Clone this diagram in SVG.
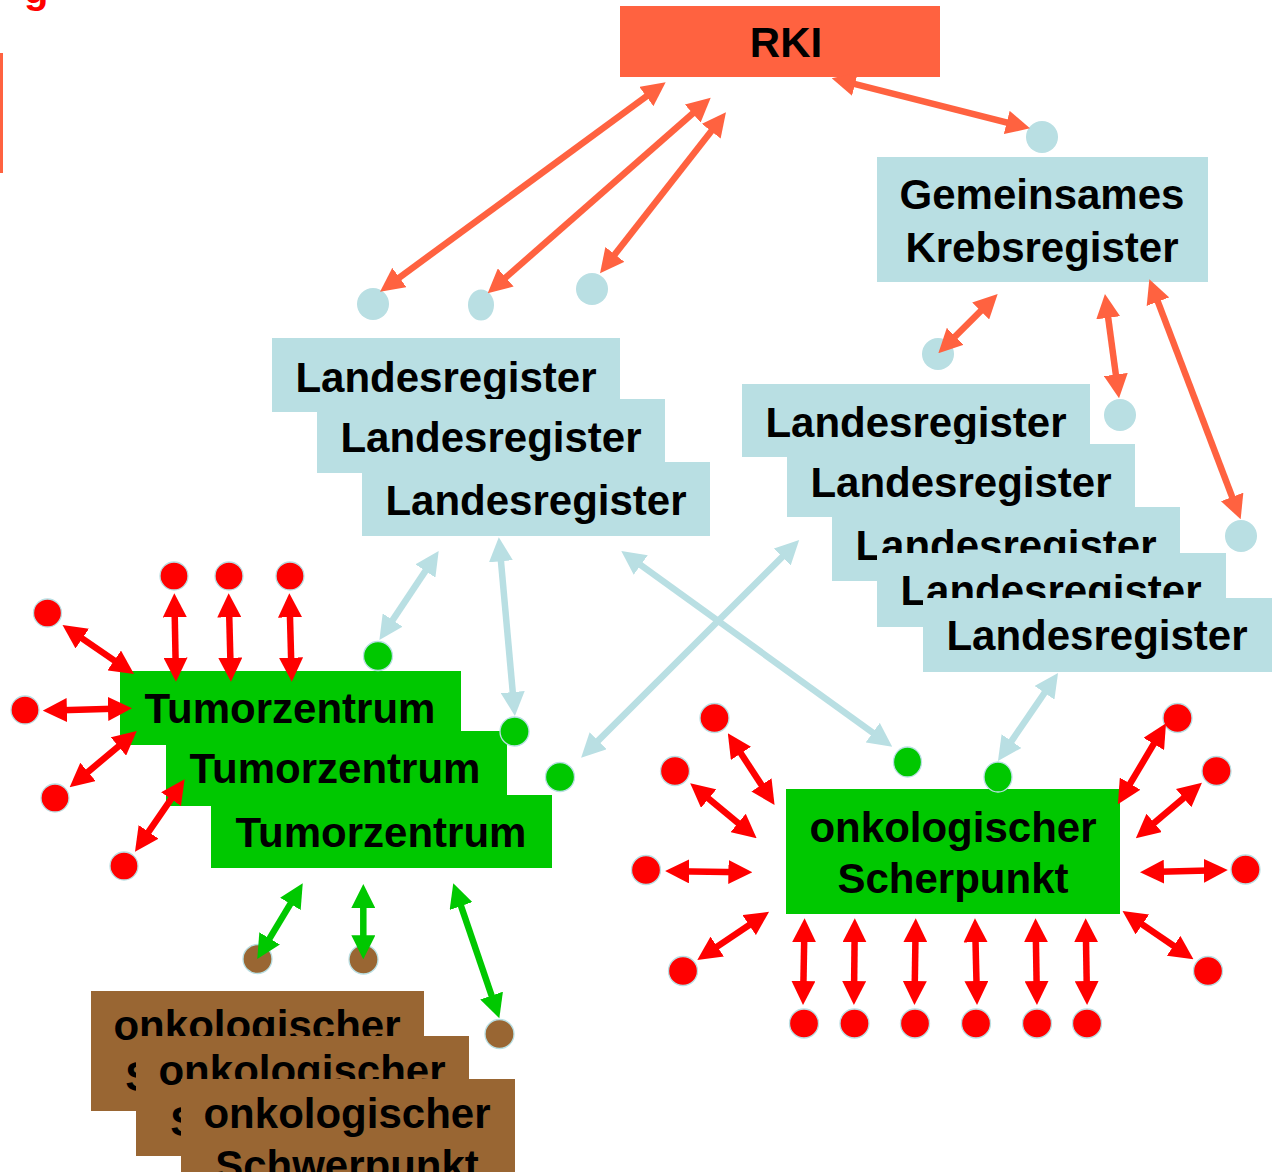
<svg xmlns="http://www.w3.org/2000/svg" width="1275" height="1172" viewBox="0 0 1275 1172">
<style>
.t{font-family:"Liberation Sans",Arial,Helvetica,sans-serif;font-weight:bold;font-size:42px;fill:#000;text-anchor:middle}
.lb{fill:#b9dfe3}
.gr{fill:#00c800}
.br{fill:#996633}
.dr{fill:#ff0000;stroke:#b9dfe3;stroke-width:1.3}
.dg{fill:#00c800;stroke:#b9dfe3;stroke-width:1.3}
.db{fill:#996633;stroke:#b9dfe3;stroke-width:1.3}
.dl{fill:#b9dfe3}
.co{stroke:#ff6240;stroke-width:6.5;fill:none;marker-start:url(#ao);marker-end:url(#ao)}
.cr{stroke:#ff0000;stroke-width:6.5;fill:none;marker-start:url(#ar);marker-end:url(#ar)}
.cb{stroke:#b9dfe3;stroke-width:6.5;fill:none;marker-start:url(#ab);marker-end:url(#ab)}
.cg{stroke:#00c800;stroke-width:6.5;fill:none;marker-start:url(#ag);marker-end:url(#ag)}
</style>
<defs>
<marker id="ao" viewBox="0 0 24 24" markerWidth="24" markerHeight="24" refX="14" refY="12" orient="auto-start-reverse" markerUnits="userSpaceOnUse"><path d="M0,0 L24,12 L0,24 z" fill="#ff6240"/></marker>
<marker id="ar" viewBox="0 0 24 24" markerWidth="24" markerHeight="24" refX="14" refY="12" orient="auto-start-reverse" markerUnits="userSpaceOnUse"><path d="M0,0 L24,12 L0,24 z" fill="#ff0000"/></marker>
<marker id="ab" viewBox="0 0 24 24" markerWidth="24" markerHeight="24" refX="14" refY="12" orient="auto-start-reverse" markerUnits="userSpaceOnUse"><path d="M0,0 L24,12 L0,24 z" fill="#b9dfe3"/></marker>
<marker id="ag" viewBox="0 0 24 24" markerWidth="24" markerHeight="24" refX="14" refY="12" orient="auto-start-reverse" markerUnits="userSpaceOnUse"><path d="M0,0 L24,12 L0,24 z" fill="#00c800"/></marker>
</defs>
<rect width="1275" height="1172" fill="#ffffff"/>

<!-- page fragments -->
<text x="24" y="3" style="font-family:'Liberation Sans',Arial,sans-serif;font-weight:bold;font-size:40px;fill:#ff0000">g</text>
<rect x="0" y="53" width="3" height="120" fill="#ff6240"/>

<g id="rki">
<rect x="620" y="6" width="320" height="71" fill="#ff6240"/>
<text class="t" x="786" y="57">RKI</text>
</g>

<g id="gkr">
<rect class="lb" x="877" y="157" width="331" height="125"/>
<text class="t" x="1042" y="209">Gemeinsames</text>
<text class="t" x="1042" y="262">Krebsregister</text>
</g>

<g id="landesregister-left">
<g id="lr-l1"><rect class="lb" x="272" y="338" width="348" height="74"/><text class="t" x="446" y="392">Landesregister</text></g>
<g id="lr-l2"><rect class="lb" x="317" y="399" width="348" height="74"/><text class="t" x="491" y="452">Landesregister</text></g>
<g id="lr-l3"><rect class="lb" x="362" y="462" width="348" height="74"/><text class="t" x="536" y="515">Landesregister</text></g>
</g>

<g id="landesregister-right">
<g id="lr-r1"><rect class="lb" x="742" y="384" width="348" height="73"/><text class="t" x="916" y="437">Landesregister</text></g>
<g id="lr-r2"><rect class="lb" x="787" y="444" width="348" height="73"/><text class="t" x="961" y="497">Landesregister</text></g>
<g id="lr-r3"><rect class="lb" x="832" y="507" width="348" height="74"/><text class="t" x="1006" y="560">Landesregister</text></g>
<g id="lr-r4"><rect class="lb" x="877" y="553" width="349" height="74"/><text class="t" x="1051" y="605">Landesregister</text></g>
<g id="lr-r5"><rect class="lb" x="923" y="598" width="349" height="74"/><text class="t" x="1097" y="650">Landesregister</text></g>
</g>

<g id="tumorzentrum">
<g id="tz1"><rect class="gr" x="120" y="671" width="341" height="74"/><text class="t" x="290" y="723">Tumorzentrum</text></g>
<g id="tz2"><rect class="gr" x="166" y="731" width="341" height="75"/><text class="t" x="335" y="783">Tumorzentrum</text></g>
<g id="tz3"><rect class="gr" x="211" y="795" width="341" height="73"/><text class="t" x="381" y="847">Tumorzentrum</text></g>
</g>

<g id="onko-scherpunkt">
<rect class="gr" x="786" y="789" width="334" height="125"/>
<text class="t" x="953" y="842">onkologischer</text>
<text class="t" x="953" y="893">Scherpunkt</text>
</g>

<g id="onko-schwerpunkt">
<g id="os1"><rect class="br" x="91" y="991" width="333" height="120"/><text class="t" x="257" y="1040">onkologischer</text><text class="t" x="257" y="1091">Schwerpunkt</text></g>
<g id="os2"><rect class="br" x="136" y="1036" width="333" height="120"/><text class="t" x="302" y="1085">onkologischer</text><text class="t" x="302" y="1136">Schwerpunkt</text></g>
<g id="os3"><rect class="br" x="181" y="1079" width="334" height="120"/><text class="t" x="347" y="1128">onkologischer</text><text class="t" x="347" y="1180">Schwerpunkt</text></g>
</g>

<g id="dots">
<circle class="dl" cx="373" cy="304" r="16"/>
<ellipse class="dl" cx="481" cy="305" rx="13" ry="15.5"/>
<circle class="dl" cx="592" cy="289" r="16"/>
<circle class="dl" cx="1042" cy="137" r="16"/>
<circle class="dl" cx="938" cy="354" r="16"/>
<circle class="dl" cx="1120" cy="415" r="16"/>
<circle class="dl" cx="1241" cy="536" r="16"/>

<circle class="dg" cx="378" cy="656" r="14.5"/>
<circle class="dg" cx="514.5" cy="731.5" r="14.5"/>
<circle class="dg" cx="560" cy="777" r="14.5"/>
<ellipse class="dg" cx="907.5" cy="762" rx="14" ry="15"/>
<ellipse class="dg" cx="998" cy="777" rx="14" ry="15"/>

<circle class="dr" cx="174" cy="576" r="14"/>
<circle class="dr" cx="229" cy="576" r="14"/>
<circle class="dr" cx="290" cy="576" r="14"/>
<circle class="dr" cx="47.5" cy="613" r="14"/>
<circle class="dr" cx="25" cy="710" r="14"/>
<circle class="dr" cx="55" cy="798" r="14"/>
<circle class="dr" cx="124" cy="866" r="14"/>

<circle class="dr" cx="714.5" cy="718" r="14.5"/>
<circle class="dr" cx="675" cy="771" r="14.5"/>
<circle class="dr" cx="646" cy="870" r="14.5"/>
<circle class="dr" cx="683" cy="971" r="14.5"/>
<circle class="dr" cx="804" cy="1023.5" r="14.5"/>
<circle class="dr" cx="854.5" cy="1023.5" r="14.5"/>
<circle class="dr" cx="915" cy="1023.5" r="14.5"/>
<circle class="dr" cx="976" cy="1023.5" r="14.5"/>
<circle class="dr" cx="1037" cy="1023.5" r="14.5"/>
<circle class="dr" cx="1087" cy="1023.5" r="14.5"/>
<circle class="dr" cx="1177.5" cy="718" r="14.5"/>
<circle class="dr" cx="1216.5" cy="771" r="14.5"/>
<circle class="dr" cx="1245.5" cy="869.5" r="14.5"/>
<circle class="dr" cx="1208" cy="971" r="14.5"/>

<circle class="db" cx="257.5" cy="959" r="14.5"/>
<circle class="db" cx="363.5" cy="959.5" r="14.5"/>
<circle class="db" cx="499.5" cy="1034" r="14.5"/>
</g>

<g id="connectors">
<path class="co" d="M657.6,88.2 L388.1,285.8"/>
<path class="co" d="M703.2,104.3 L495.2,286.7"/>
<path class="co" d="M719.8,120.2 L606.2,265.4"/>
<path class="co" d="M841.4,80.7 L1020.3,125.9"/>
<path class="co" d="M990.6,301.1 L945.4,346.2"/>
<path class="co" d="M1106.3,303.9 L1117.7,388.4"/>
<path class="co" d="M1152.9,288.6 L1237.1,510"/>

<path class="cr" d="M174.5,603.3 L175.8,671.7"/>
<path class="cr" d="M228.9,603.3 L230.7,671.7"/>
<path class="cr" d="M289.6,603.3 L291.5,671.7"/>
<path class="cr" d="M70.75,630.65 L125.75,668.35"/>
<path class="cr" d="M52.9,710.4 L122,708.6"/>
<path class="cr" d="M77.3,780.9 L129.1,737.4"/>
<path class="cr" d="M140.65,843.45 L178.95,787.55"/>

<path class="cb" d="M433.15,559.33 L384.95,631.67"/>
<path class="cb" d="M499.7,547.3 L514,706"/>
<path class="cb" d="M629.4,556.9 L884.1,740.8"/>
<path class="cb" d="M792.1,547.1 L588.2,750.6"/>
<path class="cb" d="M1052.4,681.3 L1003.6,752.7"/>

<path class="cg" d="M297.6,891.9 L262.4,950.4"/>
<path class="cg" d="M363.3,894 L363.3,949.3"/>
<path class="cg" d="M456.5,892.8 L496.1,1008.8"/>

<path class="cr" d="M733.3,741.7 L769.1,796.6"/>
<path class="cr" d="M697.9,789.7 L748.9,831.9"/>
<path class="cr" d="M675.1,871.15 L742.4,872.15"/>
<path class="cr" d="M705.6,954.4 L760.8,917.3"/>
<path class="cr" d="M804.4,928.3 L803.2,995"/>
<path class="cr" d="M854.7,928.3 L854,995"/>
<path class="cr" d="M915.6,928.3 L914.6,995"/>
<path class="cr" d="M975.2,928.3 L976.8,995"/>
<path class="cr" d="M1035.7,928.3 L1036.8,995"/>
<path class="cr" d="M1085.8,928.3 L1086.9,995"/>
<path class="cr" d="M1123,795.7 L1160.9,731.9"/>
<path class="cr" d="M1143.5,831.9 L1194.3,789.1"/>
<path class="cr" d="M1150,872 L1217.8,870.3"/>
<path class="cr" d="M1130.8,916.6 L1185.2,953.7"/>
</g>
</svg>
